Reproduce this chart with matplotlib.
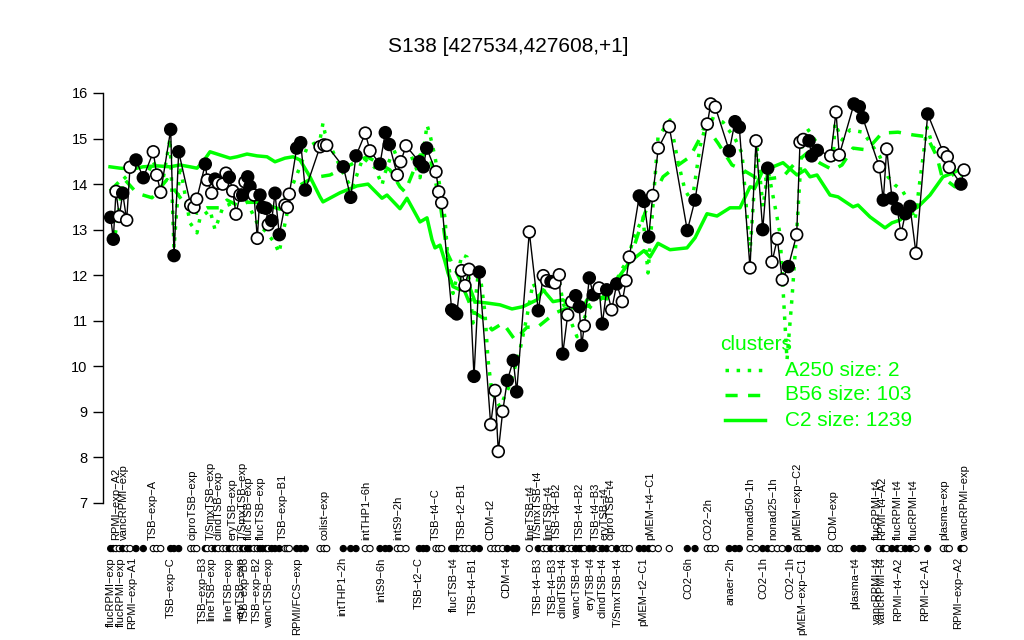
import matplotlib
matplotlib.use("Agg")
import matplotlib.pyplot as plt
from matplotlib.lines import Line2D

plt.rcParams['font.family'] = ['Liberation Sans', 'DejaVu Sans']

# probe values (position along the condition axis, log2 level, filled marker?)
pos = [110.7, 113.3, 116.0, 119.3, 122.7, 126.7, 130.0, 136.0, 143.3, 153.3,
       156.7, 160.7, 170.7, 174.0, 178.7, 190.7, 194.0, 196.7, 205.3, 207.3,
       211.7, 215.0, 218.3, 222.7, 226.0, 229.3, 232.7, 236.0, 240.0, 242.7,
       245.0, 247.7, 250.0, 254.0, 257.3, 260.0, 262.7, 266.0, 268.3, 271.7,
       275.0, 279.3, 285.0, 287.3, 289.3, 296.7, 300.7, 305.3, 320.0, 324.0,
       326.7, 343.3, 350.7, 356.0, 365.3, 370.0, 380.0, 385.3, 389.3, 397.3,
       400.7, 406.0, 419.3, 423.3, 426.7, 436.0, 438.7, 441.7, 451.7, 454.0,
       456.7, 461.7, 465.0, 469.0, 474.0, 479.3, 490.7, 495.0, 498.3, 502.7,
       507.3, 513.3, 516.7, 529.3, 538.3, 543.3, 546.7, 551.0, 555.0, 559.3,
       562.7, 567.7, 571.7, 575.7, 579.3, 581.7, 584.3, 589.3, 593.3, 599.0,
       602.3, 606.7, 611.7, 616.7, 622.3, 626.0, 629.3, 639.3, 644.0, 648.7,
       652.7, 658.3, 669.3, 687.3, 695.0, 707.3, 710.7, 715.3, 729.3, 735.0,
       739.3, 750.0, 756.0, 762.7, 767.7, 772.0, 777.3, 782.3, 788.3, 796.7,
       800.0, 803.3, 809.0, 811.7, 817.3, 830.7, 836.0, 839.3, 854.0, 859.3,
       862.7, 879.3, 883.3, 886.7, 892.0, 897.3, 901.0, 905.3, 910.0, 916.0,
       927.7, 943.3, 947.3, 949.3, 961.0, 964.0]
level = [13.27, 12.79, 13.84, 13.29, 13.80, 13.21, 14.37, 14.53, 14.14, 14.71,
         14.20, 13.82, 15.20, 12.43, 14.71, 13.54, 13.49, 13.67, 14.44, 14.09,
         13.80, 14.11, 14.02, 14.00, 14.24, 14.15, 13.85, 13.34, 13.76, 13.76,
         14.05, 14.16, 13.95, 13.76, 12.81, 13.76, 13.49, 13.47, 13.11, 13.20,
         13.80, 12.89, 13.54, 13.49, 13.78, 14.79, 14.91, 13.87, 14.82, 14.86,
         14.85, 14.38, 13.71, 14.62, 15.12, 14.73, 14.44, 15.13, 14.87, 14.20,
         14.49, 14.84, 14.49, 14.38, 14.79, 14.27, 13.83, 13.59, 11.24, 11.20,
         11.15, 12.10, 11.77, 12.13, 9.78, 12.07, 8.72, 9.47, 8.13, 9.01,
         9.69, 10.13, 9.44, 12.95, 11.22, 11.99, 11.88, 11.86, 11.83, 12.01,
         10.27, 11.13, 11.42, 11.55, 11.31, 10.46, 10.89, 11.94, 11.57, 11.72,
         10.93, 11.68, 11.24, 11.81, 11.42, 11.88, 12.40, 13.74, 13.62, 12.84,
         13.75, 14.79, 15.26, 12.98, 13.65, 15.32, 15.76, 15.69, 14.73, 15.37,
         15.25, 12.16, 14.95, 13.00, 14.35, 12.29, 12.80, 11.90, 12.19, 12.89,
         14.92, 14.98, 14.95, 14.62, 14.74, 14.62, 15.58, 14.64, 15.76, 15.70,
         15.46, 14.38, 13.65, 14.77, 13.69, 13.46, 12.90, 13.35, 13.51, 12.48,
         15.54, 14.69, 14.60, 14.37, 14.00, 14.31]
filled = [1, 1, 0, 0, 1, 0, 0, 1, 1, 0,
          0, 0, 1, 1, 1, 0, 0, 0, 1, 0,
          0, 1, 0, 0, 0, 1, 0, 0, 0, 1,
          0, 1, 1, 0, 0, 1, 1, 1, 0, 1,
          1, 1, 0, 0, 0, 1, 1, 1, 0, 0,
          0, 1, 1, 1, 0, 0, 1, 1, 1, 0,
          0, 0, 1, 1, 1, 0, 0, 0, 1, 1,
          1, 0, 0, 0, 1, 1, 0, 0, 0, 0,
          1, 1, 1, 0, 1, 0, 0, 1, 0, 0,
          1, 0, 0, 1, 1, 1, 0, 1, 1, 0,
          1, 1, 0, 1, 0, 0, 0, 1, 1, 1,
          0, 0, 0, 1, 1, 0, 0, 0, 1, 1,
          1, 0, 0, 1, 1, 0, 0, 0, 1, 0,
          0, 0, 1, 1, 1, 0, 0, 0, 1, 1,
          1, 0, 1, 0, 1, 1, 0, 1, 1, 0,
          1, 0, 0, 0, 1, 0]

# cluster mean profiles
c2_pos = [110, 120, 133, 143, 157, 170, 180, 190, 197, 203, 210, 220, 230, 237,
          247, 257, 267, 275, 285, 293, 300, 310, 320, 323, 340, 357, 368, 382,
          387, 400, 407, 420, 427, 432, 435, 440, 445, 448, 453, 460, 470, 475,
          487, 500, 512, 523, 537, 543, 553, 563, 573, 583, 587, 597, 607, 613,
          620, 630, 644, 650, 658, 670, 687, 695, 707, 717, 730, 740, 750, 755,
          763, 773, 783, 797, 805, 810, 817, 830, 838, 853, 858, 870, 885, 892,
          900, 908, 918, 930, 943, 950, 957]
c2_val = [14.38, 14.35, 14.33, 14.38, 14.40, 14.38, 14.42, 14.38, 14.35, 14.49,
          14.71, 14.64, 14.57, 14.60, 14.66, 14.62, 14.60, 14.49, 14.57, 14.60,
          14.53, 14.16, 13.72, 13.61, 13.81, 13.96, 14.00, 13.69, 13.76, 13.46,
          13.69, 13.17, 13.26, 12.78, 12.60, 12.66, 12.30, 12.05, 11.75, 11.68,
          11.72, 11.42, 11.39, 11.35, 11.26, 11.31, 11.46, 11.68, 11.42, 11.46,
          11.28, 11.28, 11.46, 11.53, 11.48, 11.79, 12.00, 12.30, 12.54, 12.40,
          12.70, 12.56, 12.60, 12.82, 13.35, 13.30, 13.48, 13.48, 13.94, 13.92,
          14.31, 14.38, 14.47, 14.20, 14.31, 14.16, 14.20, 13.76, 13.72, 13.50,
          13.54, 13.28, 13.04, 13.15, 13.21, 13.37, 13.50, 13.76, 14.16, 14.22,
          14.29]

b56_pos = [110, 123, 137, 152, 167, 187, 197, 207, 220, 227, 237, 247, 257, 267,
           280, 290, 300, 313, 330, 350, 367, 378, 390, 400, 405, 420, 430, 440,
           447, 460, 473, 483, 492, 503, 515, 527, 537, 555, 567, 585, 600, 617,
           627, 632, 645, 663, 677, 690, 700, 705, 718, 732, 743, 760, 783, 795,
           807, 820, 833, 842, 853, 867, 882, 898, 913, 927, 937, 942, 955, 962]
b56_val = [13.85, 14.14, 13.80, 13.70, 14.10, 13.50, 13.36, 13.48, 13.48, 13.65,
           13.54, 13.60, 13.60, 13.54, 13.45, 13.87, 13.98, 14.14, 14.20, 14.42,
           14.60, 14.47, 14.31, 13.94, 13.83, 14.64, 14.60, 13.60, 12.50, 11.90,
           11.20, 11.06, 10.80, 10.95, 10.58, 10.86, 10.85, 11.17, 11.28, 11.30,
           11.46, 11.83, 12.20, 12.49, 13.37, 14.16, 14.40, 14.60, 15.01, 15.30,
           14.90, 14.42, 14.31, 14.09, 14.16, 14.46, 14.68, 14.46, 14.31, 14.42,
           14.79, 14.75, 15.12, 15.14, 15.08, 15.04, 14.60, 14.16, 13.94, 14.10]

a250_pos = [110, 113, 117, 123, 133, 143, 153, 163, 170, 174, 180, 190, 197, 200,
            210, 215, 223, 235, 245, 257, 267, 275, 279, 293, 300, 307, 320, 323,
            325, 333, 345, 352, 363, 375, 382, 385, 392, 400, 405, 412, 420, 427,
            430, 435, 445, 448, 453, 462, 467, 473, 479, 485, 488, 492, 500, 510,
            520, 527, 533, 540, 550, 560, 563, 573, 577, 587, 600, 613, 620, 628,
            633, 643, 648, 658, 670, 678, 685, 692, 700, 708, 723, 735, 742, 750,
            757, 763, 768, 777, 780, 787, 792, 797, 802, 807, 820, 833, 835, 842,
            850, 863, 880, 888, 895, 902, 908, 915, 920, 927, 933, 945, 955, 962]
a250_val = [12.90, 12.67, 13.10, 14.10, 14.30, 14.00, 14.50, 14.10, 15.00, 12.60,
            14.40, 13.15, 12.93, 13.26, 13.43, 13.00, 13.50, 13.60, 13.70, 13.15,
            12.93, 12.70, 12.49, 14.00, 14.38, 14.80, 14.97, 15.34, 15.12, 14.71,
            14.16, 13.90, 14.58, 14.36, 13.98, 14.24, 14.68, 14.75, 14.93, 14.58,
            14.14, 15.30, 15.08, 14.60, 13.26, 12.30, 11.60, 12.45, 12.40, 10.95,
            12.20, 11.17, 10.14, 9.42, 9.11, 9.60, 10.36, 11.10, 11.83, 11.50,
            11.90, 11.79, 11.39, 10.87, 10.65, 11.20, 11.60, 11.68, 12.07, 12.34,
            12.78, 13.28, 12.05, 15.03, 15.41, 14.49, 13.87, 13.61, 14.82, 15.47,
            15.36, 15.00, 14.68, 12.50, 14.82, 13.50, 14.31, 13.28, 12.90, 10.14,
            11.50, 13.06, 14.90, 15.23, 14.80, 14.46, 15.34, 14.97, 15.19, 15.14,
            14.60, 14.16, 13.98, 13.87, 13.65, 13.21, 14.09, 15.25, 14.82, 14.50,
            14.14, 14.20]

# condition labels above / below the marker row
top_labels = ["RPMI-exp-A2", "vancRPMI-exp", "TSB-exp-A", "ciproTSB-exp",
              "T/SmxTSB-exp", "clindTSB-exp", "eryTSB-exp", "T/SmxTSB-exp",
              "flucTSB-exp", "flucTSB-exp", "TSB-exp-B1", "colist-exp",
              "intTHP1-6h", "intS9-2h", "TSB-t4-C", "TSB-t2-B1", "CDM-t2",
              "lineTSB-t4", "T/SmxTSB-t4", "lineTSB-t4", "TSB-t4-B2", "TSB-t4-B2",
              "TSB-t4-B3", "eryTSB-t4", "ciproTSB-t4", "pMEM-t4-C1", "CO2-2h",
              "nonad50-1h", "nonad25-1h", "pMEM-exp-C2", "CDM-exp", "flucRPMI-t4",
              "RPMI-t4-A2", "flucRPMI-t4", "flucRPMI-t4", "plasma-exp",
              "vancRPMI-exp"]
top_pos = [116, 124, 153, 193, 211, 219, 232, 243, 249, 261, 283, 324, 366, 398,
           436, 462, 490, 530, 538, 548, 557, 580, 596, 604, 611, 650, 708, 750,
           773, 797, 833, 877, 882, 898, 914, 944, 965]
bottom_labels = ["flucRPMI-exp", "flucRPMI-exp", "RPMI-exp-A1", "TSB-exp-C",
                 "TSB-exp-B3", "lineTSB-exp", "lineTSB-exp", "eryTSB-exp",
                 "TSB-exp-B3", "TSB-exp-B2", "vancTSB-exp", "RPMI/FCS-exp",
                 "intTHP1-2h", "intS9-6h", "TSB-t2-C", "flucTSB-t4", "TSB-t4-B1",
                 "CDM-t4", "TSB-t4-B3", "TSB-t4-B3", "clindTSB-t4", "vancTSB-t4",
                 "eryTSB-t4", "clindTSB-t4", "T/SmxTSB-t4", "pMEM-t2-C1", "CO2-6h",
                 "anaer-2h", "CO2-1h", "CO2-1h", "pMEM-exp-C1", "plasma-t4",
                 "vancRPMI-t4", "vancRPMI-t4", "RPMI-t4-A2", "RPMI-t2-A1",
                 "RPMI-exp-A2"]
bottom_pos = [111, 121, 132, 171, 203, 211, 228, 241, 245, 257, 269, 297, 342,
              381, 419, 454, 473, 506, 538, 553, 562, 577, 590, 603, 618, 643,
              688, 730, 763, 790, 802, 855, 877, 882, 898, 925, 958]

green = '#00ff00'
W, H = 1024, 640

fig = plt.figure(figsize=(10.24, 6.4), dpi=100)
ax = fig.add_axes([103 / W, 1 - 503 / H, (975 - 103) / W, 410 / H])
ax.set_xlim(103, 975)
ax.set_ylim(7, 16)

# clusters
ax.plot(a250_pos, a250_val, color=green, lw=2.5, linestyle=(0, (1, 2.2)), zorder=2)
ax.plot(b56_pos, b56_val, color=green, lw=2.5, linestyle=(0, (3.5, 3)), zorder=2)
ax.plot(c2_pos, c2_val, color=green, lw=2.5, linestyle='-', zorder=2)

# probe profile
ax.plot(pos, level, color='black', lw=1, zorder=3)
faces = ['black' if f else 'white' for f in filled]
ax.scatter(pos, level, s=72, facecolors=faces, edgecolors='black',
           linewidths=1.2, zorder=4)

# marker row with condition names
ax.scatter(pos, [6.0] * len(pos), s=20, facecolors=faces, edgecolors='black',
           linewidths=0.8, clip_on=False, zorder=4)
for lab, x in zip(top_labels, top_pos):
    ax.text(x, 6.19, lab.replace('-', '\u2212'), rotation=90, ha='center',
            va='bottom', fontsize=8, clip_on=False)
for lab, x in zip(bottom_labels, bottom_pos):
    ax.text(x, 5.81, lab.replace('-', '\u2212'), rotation=90, ha='center',
            va='top', fontsize=8, clip_on=False)

for s in ['top', 'right', 'bottom']:
    ax.spines[s].set_visible(False)
ax.spines['left'].set_linewidth(1)
ax.set_xticks([])
ax.set_yticks(range(7, 17))
ax.tick_params(axis='y', length=7, width=1, pad=4, labelsize=10.5)

fig.text(508 / W, 1 - 47 / H, "S138 [427534,427608,+1]", ha='center',
         va='center', fontsize=15)

# legend
fig.text(720 / W, 1 - 344 / H, "clusters", color=green, fontsize=15,
         ha='left', va='center')
leg_rows = [("A250 size: 2", (0, (1, 2.2)), 370),
            ("B56 size: 103", (0, (3.5, 3)), 395),
            ("C2 size: 1239", '-', 420)]
for txt, ls, yy in leg_rows:
    fig.add_artist(Line2D([725 / W, 765 / W], [1 - yy / H, 1 - yy / H],
                          color=green, lw=2.5, linestyle=ls))
    fig.text(785 / W, 1 - yy / H, txt, color=green, fontsize=15,
             ha='left', va='center')

fig.savefig('out.png', dpi=100)
